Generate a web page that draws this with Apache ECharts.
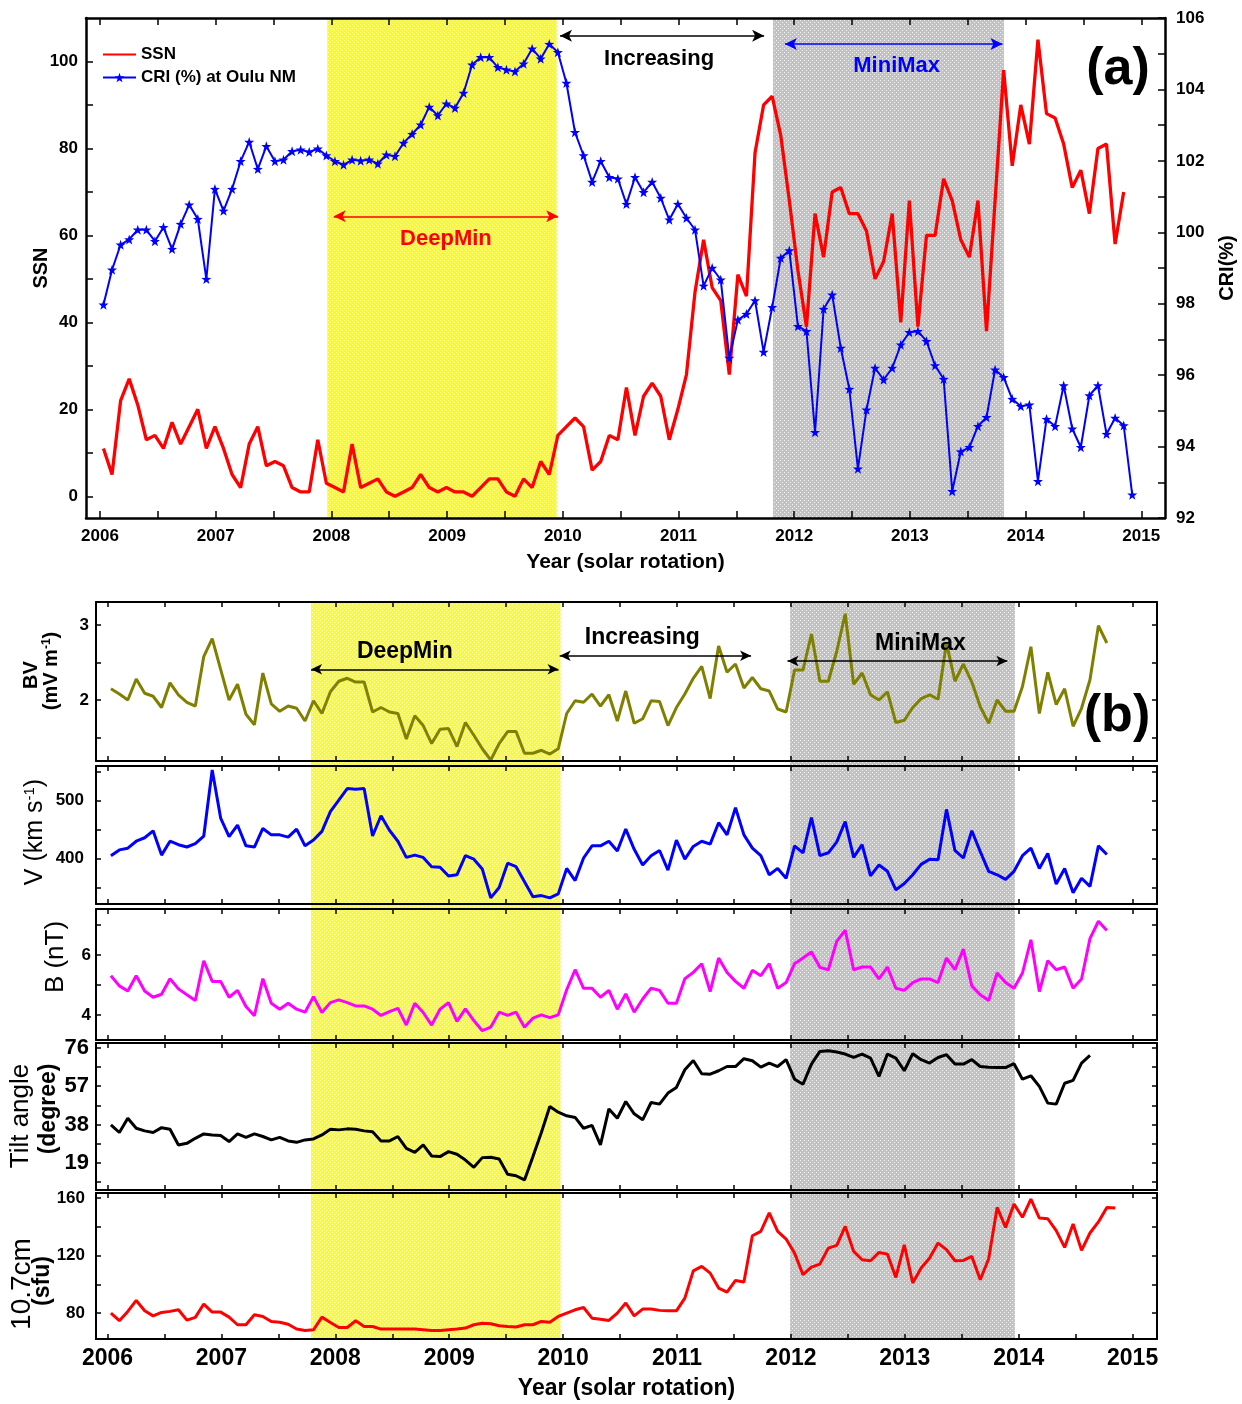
<!DOCTYPE html>
<html>
<head>
<meta charset="utf-8">
<script src="https://cdn.jsdelivr.net/npm/echarts@6/dist/echarts.min.js"></script>
<style>
html,body{margin:0;padding:0;background:#fff;}
#chart{width:1242px;height:1404px;}
</style>
</head>
<body>
<div id="chart"></div>
<script>
// one value per solar rotation, first rotation starting early 2006
var ROT_START = 2006.03;
var ROT_STEP = 0.0741; // years per rotation

// panel (a)
var ssn = [11,5,22,27,21,13,14,11,17,12,16,20,11,16,11,5,2,12,16,7,8,7,2,1,1,13,3,2,1,12,
  2,3,4,1,0,1,2,5,2,1,2,1,1,0,2,4,4,1,0,4,2,8,5,14,16,18,16,6,8,14,
  13,25,14,23,26,23,13,20,28,47,59,48,45,28,51,46,79,90,92,83,68,52,39,65,55,70,71,65,65,61,
  50,54,65,40,68,39,60,60,73,68,59,55,68,38,68,98,76,90,81,105,88,87,81,71,75,65,80,81,58,70];
var cri = [97.97,98.95,99.65,99.8,100.07,100.07,99.75,100.14,99.53,100.23,
  100.77,100.37,98.69,101.21,100.6,101.21,101.99,102.53,101.77,102.41,
  101.99,102.03,102.27,102.31,102.25,102.34,102.15,101.99,101.89,102.03,
  102.0,102.03,101.92,102.17,102.13,102.5,102.75,103.01,103.51,103.27,
  103.6,103.48,103.9,104.69,104.9,104.9,104.62,104.55,104.5,104.72,
  105.14,104.86,105.27,105.04,104.18,102.8,102.15,101.41,101.99,101.54,
  101.5,100.79,101.54,101.12,101.41,100.96,100.35,100.79,100.4,100.07,
  98.5,99.0,98.67,96.48,97.55,97.71,98.09,96.65,97.9,99.28,
  99.49,97.37,97.23,94.4,97.85,98.25,96.76,95.61,93.38,95.03,
  96.2,95.87,96.2,96.85,97.2,97.23,96.95,96.27,95.89,92.75,
  93.86,93.98,94.57,94.82,96.15,95.94,95.33,95.13,95.17,93.03,
  94.77,94.57,95.71,94.5,93.98,95.43,95.71,94.35,94.8,94.59,92.65];

// panel (b)
var bv = [2.15,2.08,2.0,2.28,2.09,2.05,1.9,2.23,2.07,1.97,1.92,2.58,2.82,2.41,2.0,2.21,1.81,1.67,2.36,1.95,
  1.85,1.92,1.89,1.72,1.99,1.82,2.11,2.25,2.29,2.24,2.24,1.84,1.9,1.84,1.82,1.48,1.79,1.66,1.42,1.61,
  1.62,1.38,1.7,1.53,1.35,1.2,1.42,1.58,1.58,1.29,1.29,1.33,1.28,1.35,1.82,1.99,1.97,2.08,1.92,2.07,
  1.72,2.12,1.69,1.75,1.99,1.98,1.66,1.9,2.08,2.29,2.45,2.02,2.72,2.37,2.48,2.16,2.3,2.15,2.12,1.88,
  1.84,2.4,2.4,2.88,2.25,2.25,2.65,3.15,2.21,2.36,2.07,2.0,2.11,1.7,1.73,1.9,2.02,2.07,2.01,2.76,
  2.25,2.48,2.24,1.91,1.69,2.0,1.85,1.85,2.18,2.71,1.82,2.37,1.94,2.15,1.65,1.89,2.27,2.99,2.76];
var vsw = [405,415,418,430,436,448,406,430,424,420,426,439,553,470,438,458,422,420,452,441,
  441,437,451,422,432,447,481,501,521,520,521,439,474,449,430,402,406,402,386,385,
  370,372,405,399,382,332,350,392,386,360,334,336,332,339,383,362,401,422,422,430,
  413,451,416,389,405,414,380,432,399,421,430,425,462,441,488,441,418,405,372,383,
  366,422,410,471,405,410,429,464,402,424,370,389,378,346,357,372,390,399,398,485,
  414,401,448,412,378,372,364,378,405,418,383,409,356,383,341,366,352,422,407];
var bimf = [5.31,4.97,4.8,5.31,4.8,4.59,4.69,5.21,4.87,4.67,4.48,5.81,5.12,5.12,4.59,4.82,4.28,3.97,5.21,4.39,
  4.19,4.39,4.19,4.09,4.61,4.08,4.41,4.5,4.41,4.3,4.3,4.19,3.98,4.11,4.22,3.66,4.39,4.08,3.66,4.19,
  4.41,3.78,4.2,3.81,3.47,3.59,4.09,3.98,4.09,3.59,3.89,4.0,3.91,4.0,4.84,5.51,4.89,4.89,4.59,4.82,
  4.19,4.7,4.09,4.53,4.89,4.82,4.39,4.39,5.21,5.42,5.71,4.78,5.9,5.42,5.12,4.89,5.49,5.31,5.71,4.89,
  5.08,5.71,5.9,6.1,5.59,5.51,6.46,6.83,5.51,5.6,5.6,5.2,5.6,4.89,4.82,5.08,5.2,5.2,5.08,5.9,
  5.51,6.2,4.97,4.67,4.48,5.4,5.08,4.89,5.4,6.51,4.78,5.81,5.51,5.6,4.89,5.2,6.55,7.13,6.82];
var tilt = [37.8,34,41.1,36.1,34.8,34,36.4,35.6,27.8,28.6,31.1,33.3,32.8,32.5,29.5,33.3,31.6,33.3,32,30.3,
  31.6,29.8,29.1,30.3,30.8,32.8,35.6,35.3,35.8,35.6,34.8,34.4,29.8,29.8,32,26.1,24.1,27.8,22.3,22,
  24.5,23.2,20.3,16.7,21.5,21.7,20.8,13.2,12.5,10.4,22,34,46.9,44.1,42.3,41.5,36.1,37.5,27.8,45.7,
  41.1,49.4,43.3,40.3,48.9,48.1,53.6,56.4,65.2,69.8,63.2,63,64.7,66.8,66.8,70.7,69.7,66.5,68.5,66.8,
  70.2,60.5,58,68,74.3,74.6,74,73,71.3,73,71,61.9,73,71,64.7,73.2,70.2,68.5,71.3,72.7,
  68,68,70.2,66.8,66.5,66.3,66.3,68.2,60.5,62.2,56.9,48.6,48.1,58.5,59.9,68.5,72.3];
var f107 = [80,74.7,81.2,88.8,81.6,78.1,80.5,81.2,82.3,75.1,77,86.3,80.7,80.7,77.2,71.9,71.9,78.8,77.7,74.2,
  73.7,72.3,68.9,67.9,68.4,77.2,73.5,70,70,74.7,70.7,70.7,68.9,68.9,68.9,68.9,68.9,68.4,67.9,67.9,
  68.4,68.9,69.6,71.9,73,72.6,71.2,70.7,70.3,71.9,71.9,74.2,73.7,77.7,80,82.3,83.9,76.5,75.8,74.9,
  80,87,78.1,82.8,82.8,81.9,81.6,81.6,90.4,109.4,112.5,107.8,97.4,94.6,102.7,101.6,133.8,136.8,149.6,136.8,
  131.5,121.7,106.7,112,114.1,125.2,127.1,140.3,122.9,117.1,116.4,122.2,121,104.8,127.5,100.9,111.3,118.3,128.7,124.1,
  116.4,116.6,119.4,103.2,117.8,153.5,139.6,155.8,146.6,159.3,146.1,145.6,137.3,125.7,141.9,123.6,135.7,143.4,153.5,153];

// axis ticks / labels
var yearLabels = [2006,2007,2008,2009,2010,2011,2012,2013,2014,2015];
var yearTicks = [2006,2006.5,2007,2007.5,2008,2008.5,2009,2009.5,2010,2010.5,2011,2011.5,2012,2012.5,2013,2013.5,2014,2014.5,2015];
var ssnTicks = [0,10,20,30,40,50,60,70,80,90,100];
var ssnLabels = [0,20,40,60,80,100];
var criTicks = [92,93,94,95,96,97,98,99,100,101,102,103,104,105,106];
var criLabels = [92,94,96,98,100,102,104,106];
var bvTicks = [1.5,2,2.5,3], bvLabels = [2,3];
var vTicks = [350,400,450,500,550], vLabels = [400,500];
var bTicks = [4,5,6,7], bLabels = [4,6];
var tiltTicks = [9.5,19,28.5,38,47.5,57,66.5,76], tiltLabels = [19,38,57,76];
var fTicks = [80,100,120,140,160], fLabels = [80,120,160];

// periods
var deepMinA = [2007.965, 2009.947], miniMaxA = [2011.817, 2013.813];
var deepMinB = [2007.787, 2009.977], miniMaxB = [2011.992, 2013.967];

var FONT = '"Liberation Sans", Arial, sans-serif';
var STAR = 'path://M50,0 L61.8,33.8 L97.6,34.5 L69,56.2 L79.4,90.5 L50,70 L20.6,90.5 L31,56.2 L2.4,34.5 L38.2,33.8 Z';

function rot(arr) {
  return arr.map(function (v, i) { return [ROT_START + i * ROT_STEP, v]; });
}

function pattern(bg, dot, size, dots) {
  var c = document.createElement('canvas');
  c.width = size; c.height = size;
  var ctx = c.getContext('2d');
  ctx.fillStyle = bg; ctx.fillRect(0, 0, size, size);
  ctx.fillStyle = dot;
  dots.forEach(function (d) { ctx.fillRect(d[0], d[1], 1, 1); });
  return { image: c, repeat: 'repeat' };
}
var yellowA = pattern('#ffff00', '#ffffb8', 4, [[0, 0], [2, 2]]);
var yellowB = pattern('#ffff10', '#ffffd0', 4, [[0, 0], [2, 2], [1, 3]]);
var grayPat = pattern('#c2c2c2', '#f2f2f2', 4, [[0, 0], [2, 2]]);

var yearFmt = function (v) { return String(Math.round(v)); };

function xAx(grid, min, max, pos, showLabel, tickLen, lw, lblSize, margin) {
  return {
    type: 'value', gridIndex: grid, min: min, max: max, position: pos, z: 5,
    nameMoveOverlap: false,
    axisLine: { onZero: false, lineStyle: { color: '#000', width: lw } },
    axisTick: { inside: true, length: tickLen, customValues: yearTicks, lineStyle: { color: '#000', width: 1.5 } },
    axisLabel: { show: showLabel, customValues: yearLabels, formatter: yearFmt,
      fontSize: lblSize, fontWeight: 'bold', color: '#000', fontFamily: FONT, margin: margin },
    splitLine: { show: false }
  };
}

function yAx(grid, min, max, pos, ticks, labels, showLabel, tickLen, lw, lblSize, margin) {
  return {
    type: 'value', gridIndex: grid, min: min, max: max, position: pos, z: 5,
    nameMoveOverlap: false,
    axisLine: { show: true, onZero: false, lineStyle: { color: '#000', width: lw } },
    axisTick: { show: true, inside: true, length: tickLen, customValues: ticks, lineStyle: { color: '#000', width: 1.5 } },
    axisLabel: { show: showLabel, customValues: labels, fontSize: lblSize, fontWeight: 'bold',
      color: '#000', fontFamily: FONT, margin: margin },
    splitLine: { show: false }
  };
}

var AX_A = [2005.879, 2015.205];
var AX_B = [2005.899, 2015.214];

var grids = [
  { left: 86, top: 18, width: 1079, height: 500 },
  { left: 96, top: 602, width: 1061, height: 159 },
  { left: 96, top: 766, width: 1061, height: 138 },
  { left: 96, top: 909, width: 1061, height: 131 },
  { left: 96, top: 1043, width: 1061, height: 147 },
  { left: 96, top: 1193, width: 1061, height: 146 },
  { left: 96, top: 602, width: 1061, height: 737 }
].map(function (g) { g.outerBoundsMode = 'none'; g.containLabel = false; return g; });

var xAxes = [];
var yAxes = [];

// panel (a)
var xa = xAx(0, AX_A[0], AX_A[1], 'bottom', true, 7, 2.5, 17, 10);
xa.name = 'Year (solar rotation)';
xa.nameLocation = 'middle';
xa.nameGap = 34;
xa.nameTextStyle = { fontSize: 21, fontWeight: 'bold', color: '#000', fontFamily: FONT };
xAxes.push(xa);
xAxes.push(xAx(0, AX_A[0], AX_A[1], 'top', false, 7, 2.5, 17, 10));
var ya = yAx(0, -5, 110, 'left', ssnTicks, ssnLabels, true, 7, 2.5, 17, 8);
ya.name = 'SSN'; ya.nameLocation = 'middle'; ya.nameRotate = 90; ya.nameGap = 35;
ya.nameTextStyle = { fontSize: 20, fontWeight: 'bold', color: '#000', fontFamily: FONT };
yAxes.push(ya);
var yc = yAx(0, 92, 106, 'right', criTicks, criLabels, true, 7, 2.5, 17, 11);
yc.name = 'CRI(%)'; yc.nameLocation = 'middle'; yc.nameRotate = 90; yc.nameGap = 52;
yc.nameTextStyle = { fontSize: 20, fontWeight: 'bold', color: '#000', fontFamily: FONT };
yAxes.push(yc);

// panel (b) sub plots
var subs = [
  { min: 1.187, max: 3.307, ticks: bvTicks, labels: bvLabels, size: 17, margin: 7 },
  { min: 321.5, max: 560, ticks: vTicks, labels: vLabels, size: 17, margin: 12 },
  { min: 3.16, max: 7.54, ticks: bTicks, labels: bLabels, size: 17, margin: 5 },
  { min: 5.4, max: 78.5, ticks: tiltTicks, labels: tiltLabels, size: 22, margin: 7 },
  { min: 62, max: 163.5, ticks: fTicks, labels: fLabels, size: 17, margin: 11 }
];
subs.forEach(function (s, k) {
  var g = k + 1;
  var last = (k === subs.length - 1);
  var xb = xAx(g, AX_B[0], AX_B[1], 'bottom', last, 5, 2, 23, 8);
  if (last) {
    xb.name = 'Year (solar rotation)';
    xb.nameLocation = 'middle';
    xb.nameGap = 38;
    xb.nameTextStyle = { fontSize: 23, fontWeight: 'bold', color: '#000', fontFamily: FONT };
  }
  xAxes.push(xb);
  xAxes.push(xAx(g, AX_B[0], AX_B[1], 'top', false, 5, 2, 23, 8));
  yAxes.push(yAx(g, s.min, s.max, 'left', s.ticks, s.labels, true, 5, 2, s.size, s.margin));
  yAxes.push(yAx(g, s.min, s.max, 'right', s.ticks, s.labels, false, 5, 2, s.size, s.margin));
});
// shading layer for panel (b)
xAxes.push({ type: 'value', gridIndex: 6, min: AX_B[0], max: AX_B[1], show: false });
yAxes.push({ type: 'value', gridIndex: 6, min: 0, max: 1, show: false });

function arrow(x1, x2, y, color, text, pos, dist, size, dx) {
  return [
    { coord: [x1, y], lineStyle: { color: color, width: 1.5, type: 'solid' },
      label: { show: true, formatter: text, position: pos, distance: dist, color: color,
        offset: [dx || 0, 0],
        fontSize: size, fontWeight: 'bold', fontFamily: FONT } },
    { coord: [x2, y] }
  ];
}

var lineBase = { type: 'line', symbol: 'none', animation: false, silent: true, clip: true };

var series = [
  Object.assign({}, lineBase, {
    name: 'SSN', xAxisIndex: 0, yAxisIndex: 0, data: rot(ssn),
    lineStyle: { color: '#ff0000', width: 3.3 }, itemStyle: { color: '#ff0000' },
    markArea: { silent: true, data: [
      [{ xAxis: deepMinA[0], itemStyle: { color: yellowA } }, { xAxis: deepMinA[1] }],
      [{ xAxis: miniMaxA[0], itemStyle: { color: grayPat } }, { xAxis: miniMaxA[1] }]
    ] },
    markLine: { silent: true, symbol: ['arrow', 'arrow'], symbolSize: [9, 12], animation: false, data: [
      arrow(2008.02, 2009.96, 64.4, '#ff0000', 'DeepMin', 'insideMiddleBottom', 12, 22, 0),
      arrow(2009.976, 2011.74, 105.9, '#000000', 'Increasing', 'insideMiddleBottom', 12, 22, -3),
      arrow(2011.92, 2013.80, 104.0, '#0000ff', 'MiniMax', 'insideMiddleBottom', 11, 22, 3)
    ] }
  }),
  Object.assign({}, lineBase, {
    name: 'CRI (%) at Oulu NM', xAxisIndex: 0, yAxisIndex: 1, data: rot(cri),
    symbol: STAR, symbolSize: 10, showSymbol: true,
    lineStyle: { color: '#0000ff', width: 2 }, itemStyle: { color: '#0000ff' }
  })
];

var subData = [
  { name: 'BV', data: bv, color: '#808000' },
  { name: 'V', data: vsw, color: '#0000ff' },
  { name: 'B', data: bimf, color: '#ff00ff' },
  { name: 'Tilt', data: tilt, color: '#000000' },
  { name: 'F10.7', data: f107, color: '#ff0000' }
];
subData.forEach(function (d, k) {
  var s = Object.assign({}, lineBase, {
    name: d.name, xAxisIndex: 2 + k * 2, yAxisIndex: 2 + k * 2, data: rot(d.data),
    lineStyle: { color: d.color, width: 3 }, itemStyle: { color: d.color }
  });
  if (k === 0) {
    s.markLine = { silent: true, symbol: ['arrow', 'arrow'], symbolSize: [8, 11], animation: false, data: [
      arrow(deepMinB[0], 2009.96, 2.41, '#000000', 'DeepMin', 'insideMiddleTop', 6, 23, -30),
      arrow(2009.97, 2011.65, 2.59, '#000000', 'Increasing', 'insideMiddleTop', 7, 23, -13),
      arrow(2011.97, 2013.90, 2.52, '#000000', 'MiniMax', 'insideMiddleTop', 6, 23, 23)
    ] };
  }
  series.push(s);
});
series.push(Object.assign({}, lineBase, {
  name: 'shade', xAxisIndex: 12, yAxisIndex: 12, data: [[2006, 0.5]],
  lineStyle: { opacity: 0 },
  markArea: { silent: true, data: [
    [{ xAxis: deepMinB[0], itemStyle: { color: yellowB } }, { xAxis: deepMinB[1] }],
    [{ xAxis: miniMaxB[0], itemStyle: { color: grayPat } }, { xAxis: miniMaxB[1] }]
  ] }
}));

function vtext(x, y, text, size, weight) {
  return {
    type: 'text', x: x, y: y, rotation: Math.PI / 2, silent: true,
    style: {
      text: text, fill: '#000', font: weight + ' ' + size + 'px ' + FONT,
      textAlign: 'center', textVerticalAlign: 'middle', align: 'center', verticalAlign: 'middle',
      rich: { sup: { fontSize: Math.round(size * 0.6), fontWeight: weight, fontFamily: FONT, verticalAlign: 'top', fill: '#000' } }
    }
  };
}
function ptext(x, y, text, size) {
  return {
    type: 'text', x: x, y: y, silent: true,
    style: { text: text, fill: '#000', font: 'bold ' + size + 'px ' + FONT,
      textAlign: 'center', textVerticalAlign: 'middle', align: 'center', verticalAlign: 'middle' }
  };
}

var chart = echarts.init(document.getElementById('chart'), null, { renderer: 'canvas' });
chart.setOption({
  animation: false,
  backgroundColor: '#ffffff',
  textStyle: { fontFamily: FONT },
  grid: grids,
  xAxis: xAxes,
  yAxis: yAxes,
  legend: {
    data: [{ name: 'SSN', itemStyle: { opacity: 0 } }, { name: 'CRI (%) at Oulu NM' }],
    orient: 'vertical', left: 97, top: 41,
    itemWidth: 33, itemHeight: 12, itemGap: 6, selectedMode: false,
    textStyle: { fontSize: 17, fontWeight: 'bold', color: '#000', fontFamily: FONT }
  },
  series: series,
  graphic: [
    ptext(1118, 70, '(a)', 52),
    ptext(1117, 717, '(b)', 52),
    vtext(31, 675, 'BV', 20, 'bold'),
    vtext(51, 671, '(mV m{sup|-1})', 20, 'bold'),
    vtext(35, 832, 'V (km s{sup|-1})', 25, 'normal'),
    vtext(56, 957, 'B (nT)', 26, 'normal'),
    vtext(21, 1116, 'Tilt angle', 26, 'normal'),
    vtext(49, 1109, '(degree)', 23, 'bold'),
    vtext(22, 1284, '10.7cm', 28, 'normal'),
    vtext(43, 1281, '(sfu)', 23, 'bold')
  ]
});
</script>
</body>
</html>
